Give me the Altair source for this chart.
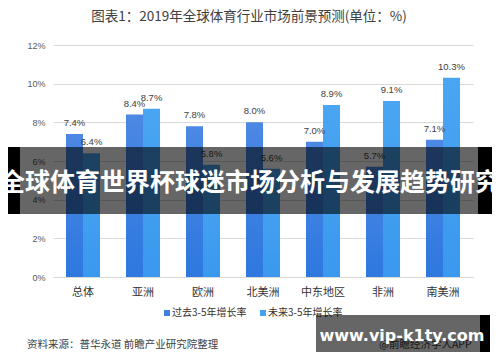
import altair as alt
import pandas as pd

categories = ["总体", "亚洲", "欧洲", "北美洲", "中东地区", "非洲", "南美洲"]
past = [7.4, 8.4, 7.8, 8.0, 7.0, 5.7, 7.1]
future = [6.4, 8.7, 5.8, 5.6, 8.9, 9.1, 10.3]
series = ["过去3-5年增长率", "未来3-5年增长率"]
y_ticks = [0, 2, 4, 6, 8, 10, 12]

rows = []
for c, a, b in zip(categories, past, future):
    rows.append({"cat": c, "series": series[0], "value": a, "label": f"{a:.1f}%"})
    rows.append({"cat": c, "series": series[1], "value": b, "label": f"{b:.1f}%"})
df = pd.DataFrame(rows)

FONT = "Noto Sans CJK SC"

x_enc = alt.X("cat:N", sort=categories,
              scale=alt.Scale(paddingInner=0.433, paddingOuter=0.2165),
              axis=alt.Axis(title=None, labelAngle=0, labelFontSize=11, labelColor="#333333",
                            labelFont=FONT, labelPadding=9, ticks=False,
                            domainColor="#d9d9d9", grid=False))
xo_enc = alt.XOffset("series:N", sort=series, scale=alt.Scale(domain=series, paddingInner=0, paddingOuter=0))
y_enc = alt.Y("value:Q", scale=alt.Scale(domain=[0, 12]),
              axis=alt.Axis(title=None, values=y_ticks, labelExpr="datum.value + '%'",
                            grid=True, gridColor="#d9d9d9", domain=False, ticks=False,
                            labelFontSize=9, labelColor="#595959", labelPadding=8,
                            labelFont="Liberation Sans"))

base = alt.Chart(df)

def grad(top, bottom):
    return alt.Gradient(gradient="linear", x1=0, x2=0, y1=0, y2=1,
                        stops=[alt.GradientStop(color=top, offset=0),
                               alt.GradientStop(color=bottom, offset=1)])

bars_past = base.transform_filter(alt.datum.series == series[0]).mark_bar(
    color=grad("#4c88e4", "#2e78df")).encode(x=x_enc, xOffset=xo_enc, y=y_enc)
bars_future = base.transform_filter(alt.datum.series == series[1]).mark_bar(
    color=grad("#4aa6f2", "#3a98ee")).encode(x=x_enc, xOffset=xo_enc, y=y_enc)

labels = base.mark_text(baseline="bottom", dy=-6, fontSize=9.5, color="#404040",
                        font="Liberation Sans").encode(
    x=x_enc, xOffset=xo_enc, y=y_enc, text="label:N")

one = pd.DataFrame({"a": [0]})
ann = alt.Chart(one)

title = ann.mark_text(text="图表1：2019年全球体育行业市场前景预测(单位：%)", fontSize=13.5,
                      color="#404040", font=FONT, align="center", baseline="middle").encode(
    x=alt.value(196), y=alt.value(-28))

leg_sq1 = ann.mark_square(size=36, color="#3f80e3", opacity=1).encode(x=alt.value(114), y=alt.value(268))
leg_tx1 = ann.mark_text(text=series[0], fontSize=10, color="#333333", font=FONT,
                        align="left", baseline="middle").encode(x=alt.value(119), y=alt.value(268))
leg_sq2 = ann.mark_square(size=36, color="#45a2f0", opacity=1).encode(x=alt.value(210), y=alt.value(268))
leg_tx2 = ann.mark_text(text=series[1], fontSize=10, color="#333333", font=FONT,
                        align="left", baseline="middle").encode(x=alt.value(215), y=alt.value(268))

source = ann.mark_text(text="资料来源：普华永道 前瞻产业研究院整理", fontSize=10.5, color="#404040",
                       font=FONT, align="left", baseline="middle").encode(x=alt.value(-26), y=alt.value(300))
app = ann.mark_text(text="@前瞻经济学人APP", fontSize=10.5, color="#404040",
                    font=FONT, align="left", baseline="middle").encode(x=alt.value(326), y=alt.value(300))

band = ann.mark_rect(color="black", opacity=0.6).encode(
    x=alt.value(-53), x2=alt.value(447), y=alt.value(102), y2=alt.value(169))
band_l = ann.mark_rect(color="black", opacity=1).encode(
    x=alt.value(-53), x2=alt.value(-33), y=alt.value(102), y2=alt.value(169))
band_r = ann.mark_rect(color="black", opacity=1).encode(
    x=alt.value(425), x2=alt.value(447), y=alt.value(102), y2=alt.value(169))
band_text = ann.mark_text(text="全球体育世界杯球迷市场分析与发展趋势研究", fontSize=25, fontWeight="bold",
                          color="white", font=FONT, align="center", baseline="middle").encode(
    x=alt.value(197), y=alt.value(138))

box = ann.mark_rect(color="black", opacity=0.6).encode(
    x=alt.value(263), x2=alt.value(427), y=alt.value(270), y2=alt.value(307))
box_r = ann.mark_rect(color="black", opacity=1).encode(
    x=alt.value(427), x2=alt.value(437), y=alt.value(270), y2=alt.value(307))
box_text = ann.mark_text(text="www.vip-k1ty.com", fontSize=16, fontWeight="bold", color="white",
                         font="DejaVu Sans", align="center", baseline="middle").encode(
    x=alt.value(349), y=alt.value(291))

chart = alt.layer(
    bars_past, bars_future, labels, title, leg_sq1, leg_tx1, leg_sq2, leg_tx2, source, app,
    band, band_l, band_r, band_text, box, box_r, box_text
).properties(
    width=420, height=232,
    autosize=alt.AutoSizeParams(type="none"),
    padding={"left": 45, "top": 37, "right": 19, "bottom": 77},
    background="white",
).configure_view(stroke=None)

chart.save("out.html", embed_options={"renderer": "svg", "actions": False})
